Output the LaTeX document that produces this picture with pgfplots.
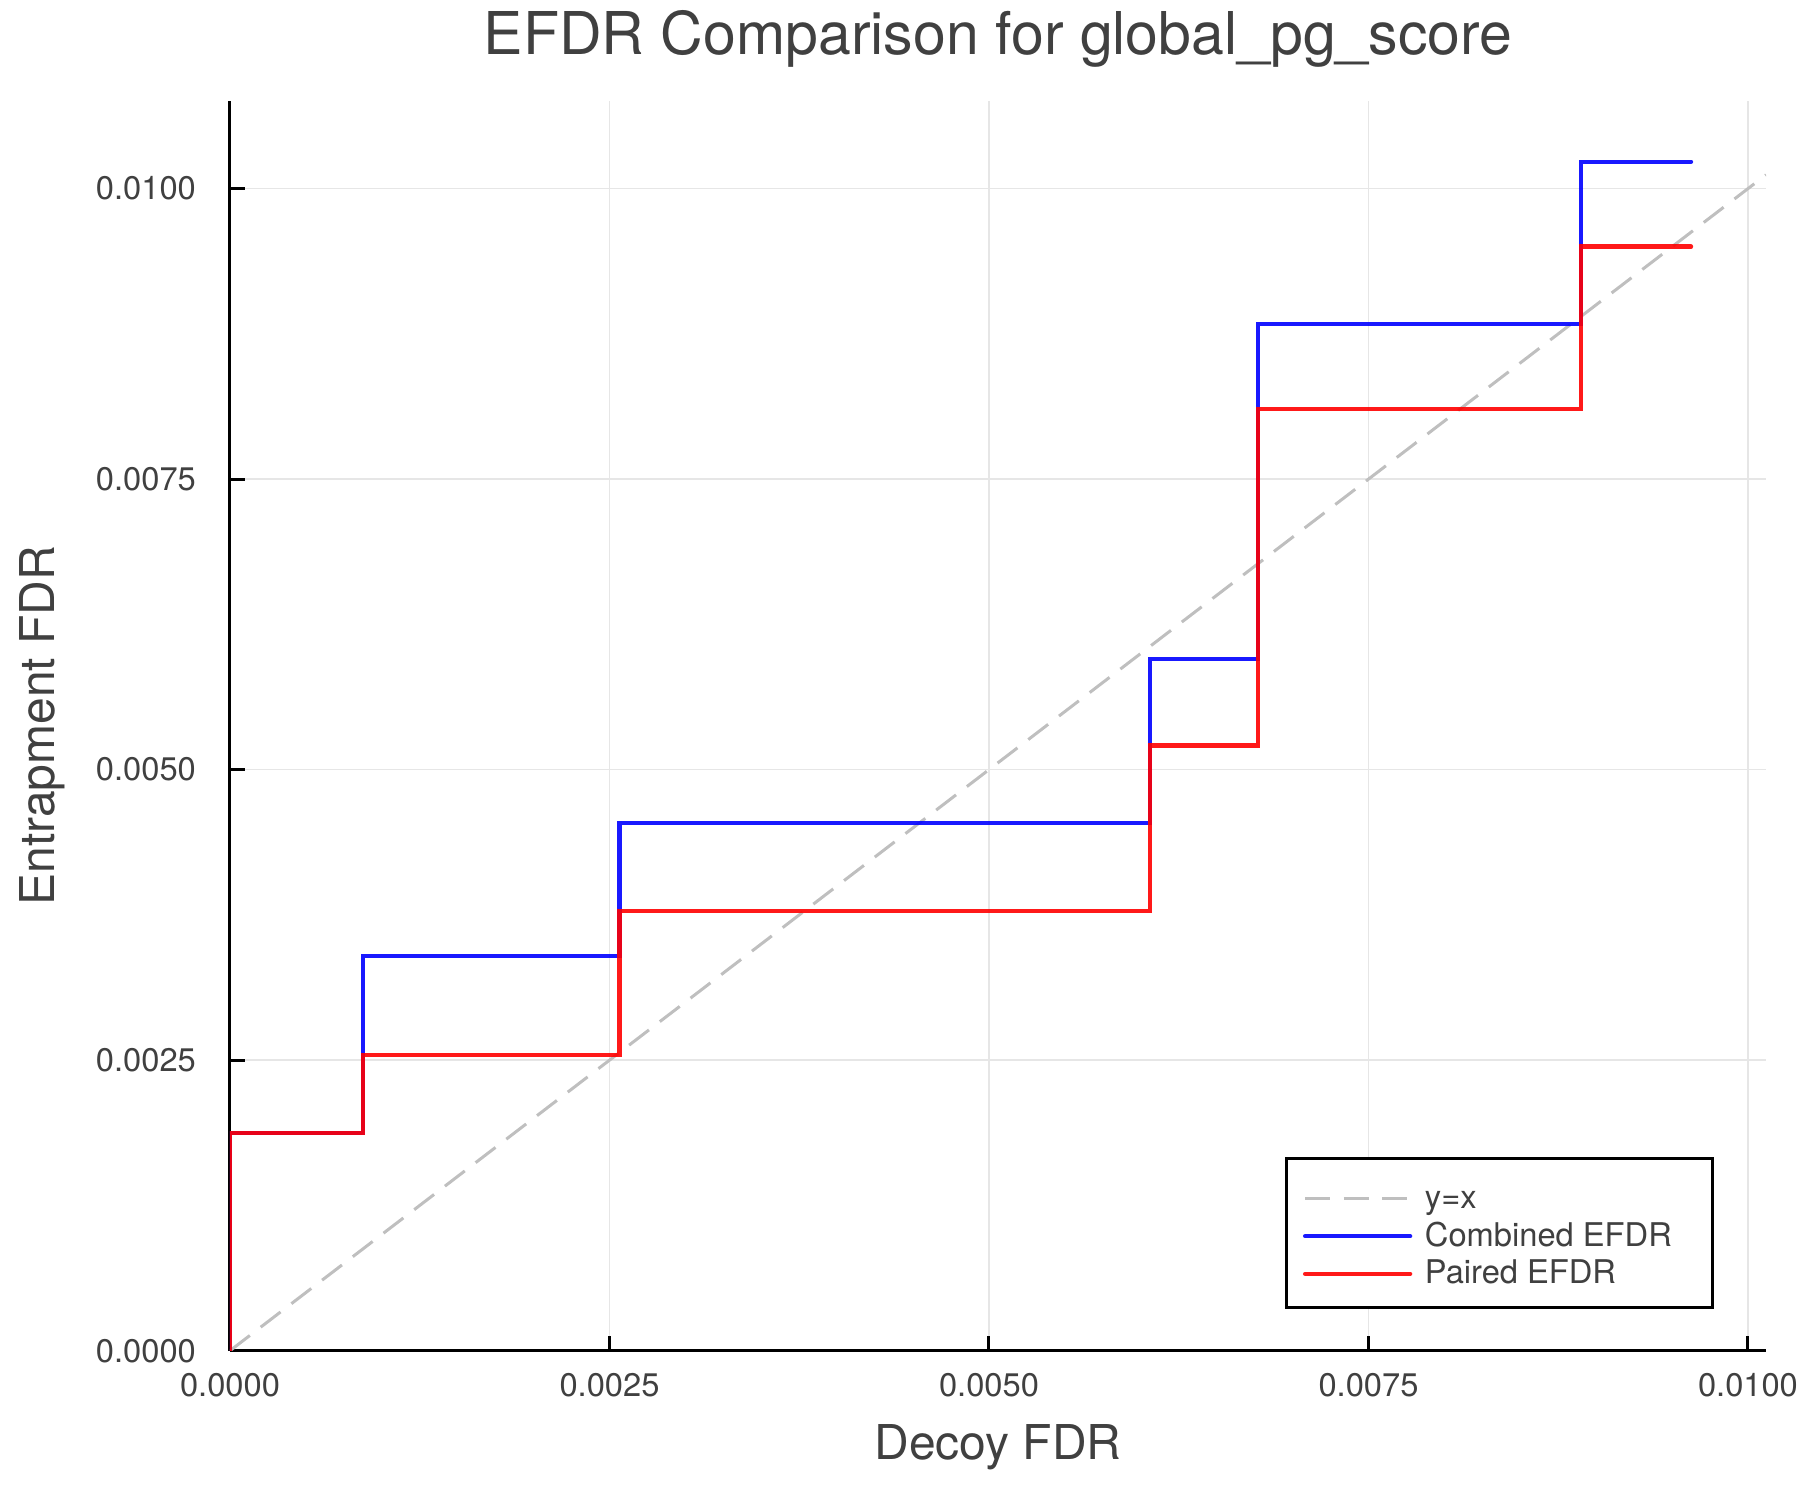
\documentclass[border=0pt]{standalone}
\usepackage{fontspec}
\setmainfont{TeX Gyre Heros}
\usepackage{pgfplots}
\pgfplotsset{compat=1.18}

\definecolor{txt}{RGB}{64,64,64}
\definecolor{gridc}{RGB}{230,230,230}
\definecolor{diag}{RGB}{191,191,191}

\begin{document}
\begin{tikzpicture}
\begin{axis}[
    scale only axis,
    width=460.8pt, height=375pt,
    at={(0,0)}, anchor=south west,
    xmin=0, xmax=0.010119,
    ymin=0, ymax=0.010757,
    axis x line*=bottom, axis y line*=left,
    axis line style={black, line width=0.9pt, -},
    xtick={0,0.0025,0.005,0.0075,0.01},
    ytick={0,0.0025,0.005,0.0075,0.01},
    xticklabels={0.0000,0.0025,0.0050,0.0075,0.0100},
    yticklabels={0.0000,0.0025,0.0050,0.0075,0.0100},
    scaled ticks=false,
    tick align=inside,
    major tick length=4.5pt,
    tick style={black, line width=0.9pt},
    grid=major,
    grid style={gridc, line width=0.45pt},
    ticklabel style={font=\fontsize{9.8}{11}\selectfont, text=txt},
    xticklabel style={yshift=-3.3pt},
    yticklabel style={xshift=-6.7pt},
    title={EFDR Comparison for global\_pg\_score},
    every axis title/.style={at={(axis description cs:0.5,1)}, anchor=base,
        yshift=13.7pt, font=\fontsize{17.7}{20}\selectfont, text=txt},
    xlabel={Decoy FDR},
    ylabel={Entrapment FDR},
    every axis x label/.style={at={(axis description cs:0.5,0)}, anchor=base,
        yshift=-32.5pt, font=\fontsize{14.4}{16}\selectfont, text=txt},
    every axis y label/.style={at={(axis description cs:0,0.5)}, xshift=-52.5pt,
        rotate=90, anchor=base, font=\fontsize{14.4}{16}\selectfont, text=txt},
    legend style={at={(rel axis cs:1,0)}, anchor=south east,
        xshift=-15.7pt, yshift=12.4pt,
        draw=black, line width=0.9pt,
        font=\fontsize{9.8}{11}\selectfont, text=txt,
        inner xsep=4.8pt, inner ysep=5.5pt,
        nodes={inner sep=0pt, text height=9.6pt, text depth=1.7pt, anchor=base west},
        row sep=0pt},
    legend cell align=left,
    legend image code/.code={\draw[#1] (0pt,3pt) -- (31.5pt,3pt);},
    every axis legend/.append style={column sep=3.8pt},
]

\addplot[diag, line width=0.9pt, dash pattern=on 7.5pt off 4.1pt]
    coordinates {(0,0) (0.010119,0.010119)};
\addlegendentry{y=x}

\addplot[blue, opacity=0.9, line width=1.3pt, line cap=round, const plot]
    coordinates {
    (0,0) (0,0.001871) (0.000878,0.003394) (0.002566,0.004541)
    (0.006060,0.005950) (0.006772,0.008836) (0.008900,0.010232)
    (0.009625,0.010232)
    };
\addlegendentry{Combined EFDR\kern7.3pt\relax}

\addplot[red, opacity=0.9, line width=1.3pt, line cap=round, const plot]
    coordinates {
    (0,0) (0,0.001871) (0.000878,0.002545) (0.002566,0.003784)
    (0.006060,0.005207) (0.006772,0.008102) (0.008900,0.009501)
    (0.009625,0.009501)
    };
\addlegendentry{Paired EFDR}

\end{axis}
\pgfresetboundingbox
\path[use as bounding box] (-69pt,-44.8pt) rectangle (471pt,405.2pt);
\end{tikzpicture}
\end{document}
